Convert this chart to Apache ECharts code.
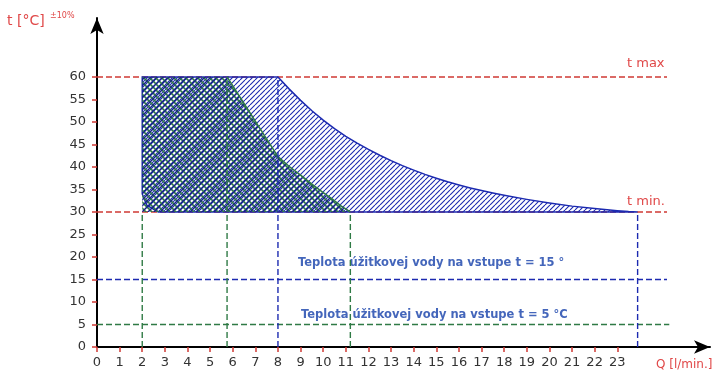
<!DOCTYPE html>
<html><head><meta charset="utf-8">
<script src="https://cdn.jsdelivr.net/npm/echarts@6/dist/echarts.min.js"></script>
<style>html,body{margin:0;padding:0;background:#fff}#c{width:715px;height:374px}</style>
</head><body><div id="c"></div>
<script>
// ---- data ----
const xTickValues = [0,1,2,3,4,5,6,7,8,9,10,11,12,13,14,15,16,17,18,19,20,21,22,23];
const yTickValues = [0,5,10,15,20,25,30,35,40,45,50,55,60];
// operating region for inlet temperature 15 °C (between t min and the limit curve)
const region15 = [[2.7,30],[2.2,31.5],[2,34],[2,60],[8,60],[8.5,57.3],[9,54.8],[9.5,52.5],[10,50.4],[10.5,48.5],[11,46.8],[11.5,45.3],[12,43.9],[12.5,42.6],[13,41.4],[13.5,40.3],[14,39.3],[14.5,38.35],[15,37.5],[15.5,36.7],[16,36],[16.5,35.35],[17,34.75],[17.5,34.2],[18,33.7],[19,32.8],[20,32],[21,31.3],[22,30.75],[23,30.3],[23.5,30.1],[23.9,30]];
// operating region for inlet temperature 5 °C
const region5 = [[2,30],[2,60],[5.75,60],[6.5,54.1],[7.25,48.2],[8,42.3],[8.5,40.1],[9,38.2],[9.5,36.2],[10,34.3],[10.5,32.5],[10.8,31.3],[11.2,30]];
const tMaxLine = [[0,60],[25.2,60]];
const tMinLine = [[0,30],[25.2,30]];
const inlet15Line = [[0,15],[25.2,15]];
const inlet5Line = [[0,5],[25.3,5]];
const greenVerticals = [[[2,0],[2,30]],[[5.75,0],[5.75,60]],[[11.2,0],[11.2,30]]];
const blueVerticals = [[[8,0],[8,60]],[[23.9,0],[23.9,30]]];

// ---- styles ----
const RED = '#d03a34', BLUE = '#1c2ab0', GREEN = '#2f7a45';
function hatch(size, parts){
  const c = document.createElement('canvas'); c.width = c.height = size;
  const ctx = c.getContext('2d');
  parts.forEach(p => {
    ctx.strokeStyle = p.color; ctx.lineWidth = p.width; ctx.beginPath();
    for (const k of [-size, 0, size]) {
      if (p.dir === '/') { ctx.moveTo(k, size); ctx.lineTo(k + size, 0); }
      else { ctx.moveTo(k, 0); ctx.lineTo(k + size, size); }
    }
    ctx.stroke();
  });
  return c;
}
const bluePattern = {image: hatch(5, [{dir:'/', color:BLUE, width:1.1}]), repeat:'repeat'};
const greenPattern = {image: hatch(6, [{dir:'\\', color:GREEN, width:1.6},{dir:'/', color:'#15208a', width:1.5}]), repeat:'repeat'};

function polygonSeries(points, fill, stroke, z){
  return {
    type:'custom', coordinateSystem:'cartesian2d', data:[[0,0]], z:z, silent:true,
    renderItem:(params, api) => ({
      type:'polygon',
      shape:{points: points.map(p => api.coord(p))},
      style:{fill: fill, stroke: stroke, lineWidth:1.5}
    })
  };
}
function solid(data, color, z){
  return {type:'line', data:data, symbol:'none', silent:true, z:z,
    lineStyle:{color:color, width:1.5}};
}
function dashed(data, color, z){
  return {type:'line', data:data, symbol:'none', silent:true, z:z,
    lineStyle:{color:color, width:1.4, type:[6,3]}};
}

const series = [
  dashed(tMaxLine, RED, 1), dashed(tMinLine, RED, 1),
  dashed(inlet15Line, BLUE, 1), dashed(inlet5Line, GREEN, 1),
  polygonSeries(region15, bluePattern, BLUE, 2),
  polygonSeries(region5, greenPattern, null, 3),
  solid(region5.slice(2), GREEN, 4),
  ...greenVerticals.map(v => dashed(v, GREEN, 5)),
  ...blueVerticals.map(v => dashed(v, BLUE, 5))
];

const chart = echarts.init(document.getElementById('c'), null, {renderer:'canvas'});
chart.setOption({
  animation:false,
  backgroundColor:'#fff',
  grid:{left:97, right:5, top:18, bottom:27, containLabel:false},
  xAxis:{type:'value', min:0, max:27.1,
    axisLine:{show:true, onZero:true, lineStyle:{color:'#000', width:2}, symbol:['none','arrow'], symbolSize:[10,16]},
    axisTick:{show:true, customValues:xTickValues, length:5, lineStyle:{color:RED, width:1.5}},
    axisLabel:{customValues:xTickValues, color:'#333', fontSize:13, fontFamily:'DejaVu Sans', margin:9},
    splitLine:{show:false}},
  yAxis:{type:'value', min:0, max:73.1,
    axisLine:{show:true, lineStyle:{color:'#000', width:2}, symbol:['none','arrow'], symbolSize:[10,16]},
    axisTick:{show:true, customValues:yTickValues, length:5, lineStyle:{color:RED, width:1.5}},
    axisLabel:{customValues:yTickValues, color:'#333', fontSize:13, fontFamily:'DejaVu Sans', margin:11},
    splitLine:{show:false}},
  graphic:[
    {type:'text', x:7, y:21, style:{text:'t [°C]', fill:'#e04848', font:'14px DejaVu Sans', verticalAlign:'middle'}},
    {type:'text', x:50, y:16, style:{text:'±10%', fill:'#e04848', font:'8px DejaVu Sans', verticalAlign:'middle'}},
    {type:'text', x:656, y:365, style:{text:'Q [l/min.]', fill:'#e04848', font:'12px DejaVu Sans', verticalAlign:'middle'}},
    {type:'text', x:627, y:64, style:{text:'t max', fill:'#e04848', font:'13px DejaVu Sans', verticalAlign:'middle'}},
    {type:'text', x:627, y:202, style:{text:'t min.', fill:'#e04848', font:'13px DejaVu Sans', verticalAlign:'middle'}},
    {type:'text', x:298, y:263, style:{text:'Teplota úžitkovej vody na vstupe t = 15 °', fill:'#4466bb', font:'bold 11.5px DejaVu Sans', verticalAlign:'middle'}},
    {type:'text', x:301, y:315, style:{text:'Teplota úžitkovej vody na vstupe t = 5 °C', fill:'#4466bb', font:'bold 11.5px DejaVu Sans', verticalAlign:'middle'}}
  ],
  series: series
});
</script></body></html>
